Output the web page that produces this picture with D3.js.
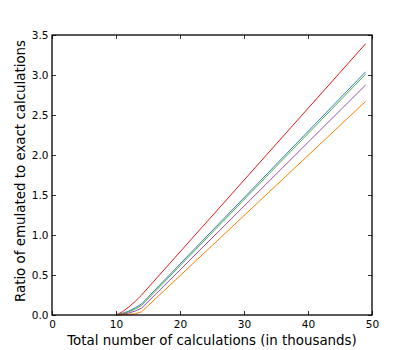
<!DOCTYPE html>
<html>
<head>
<meta charset="utf-8">
<script src="https://cdn.jsdelivr.net/npm/d3@7"></script>
<style>
body { margin: 0; background: #fff; }
text { font-family: "DejaVu Sans", sans-serif; }
</style>
</head>
<body>
<svg width="413" height="350"></svg>
<script>
// x positions (thousands of calculations)
var calcs = [10, 11, 12, 13, 14, 49];

// ratio series
var redVals    = [0, 0.04, 0.10, 0.17, 0.25, 3.39];
var blueVals   = [0, 0.02, 0.05, 0.09, 0.14, 3.04];
var greenVals  = [0, 0.015, 0.04, 0.075, 0.12, 3.01];
var purpleVals = [0, 0.01, 0.025, 0.05, 0.085, 2.875];
var orangeVals = [0, 0.005, 0.01, 0.015, 0.04, 2.67];

var seriesColors = ["#e41a1c", "#377eb8", "#4daf4a", "#984ea3", "#ff7f00"];
var allSeries = [redVals, blueVals, greenVals, purpleVals, orangeVals];

var xTicks = [0, 10, 20, 30, 40, 50];
var yTicks = [0, 0.5, 1.0, 1.5, 2.0, 2.5, 3.0, 3.5];

var svg = d3.select("svg");
var pLeft = 52, pRight = 372, pTop = 35, pBottom = 315;

var x = d3.scaleLinear().domain([0, 50]).range([pLeft, pRight]);
var y = d3.scaleLinear().domain([0, 3.5]).range([pBottom, pTop]);

var line = d3.line()
    .x(function(d, i) { return x(calcs[i]); })
    .y(function(d) { return y(d); });

svg.append("g")
  .selectAll("path")
    .data(allSeries)
  .enter().append("path")
    .attr("d", line)
    .attr("fill", "none")
    .attr("stroke", function(d, i) { return seriesColors[i]; })
    .attr("stroke-width", 1);

// axes, ticks pointing inward on all four sides
svg.append("g").attr("transform", "translate(0," + pBottom + ")")
    .call(d3.axisBottom(x).tickValues(xTicks).tickSize(-4).tickPadding(5.5).tickFormat(d3.format("d")));
svg.append("g").attr("transform", "translate(0," + pTop + ")")
    .call(d3.axisTop(x).tickValues(xTicks).tickSize(-4).tickFormat(""));
svg.append("g").attr("transform", "translate(" + pLeft + ",0)")
    .call(d3.axisLeft(y).tickValues(yTicks).tickSize(-4).tickPadding(3.5).tickFormat(d3.format(".1f")));
svg.append("g").attr("transform", "translate(" + pRight + ",0)")
    .call(d3.axisRight(y).tickValues(yTicks).tickSize(-4).tickFormat(""));

svg.selectAll(".domain").remove();
svg.selectAll(".tick line").attr("stroke", "#333");
svg.selectAll(".tick text")
    .attr("fill", "#000")
    .style("font-size", "10.5px")
    .style("font-family", "DejaVu Sans");

svg.append("rect")
    .attr("x", pLeft).attr("y", pTop)
    .attr("width", pRight - pLeft).attr("height", pBottom - pTop)
    .attr("fill", "none")
    .attr("stroke", "#000")
    .attr("stroke-width", 1.3);

svg.append("text")
    .attr("x", (pLeft + pRight) / 2)
    .attr("y", 345)
    .attr("text-anchor", "middle")
    .style("font-size", "13.4px")
    .text("Total number of calculations (in thousands)");

svg.append("text")
    .attr("transform", "translate(24.5,171) rotate(-90)")
    .attr("text-anchor", "middle")
    .style("font-size", "13.4px")
    .text("Ratio of emulated to exact calculations");
</script>
</body>
</html>
